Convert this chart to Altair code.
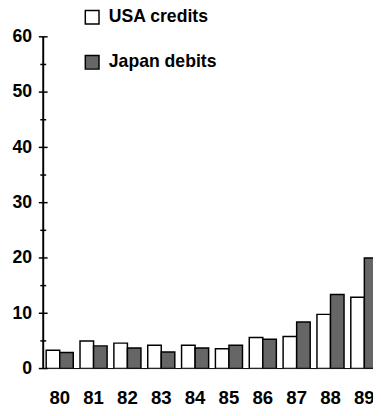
import altair as alt
import pandas as pd

YEARS = ["80", "81", "82", "83", "84", "85", "86", "87", "88", "89"]
USA_CREDITS = [3.3, 5.0, 4.6, 4.2, 4.2, 3.6, 5.6, 5.8, 9.8, 12.9]
JAPAN_DEBITS = [2.9, 4.1, 3.7, 3.0, 3.7, 4.2, 5.3, 8.4, 13.4, 20.0]
SERIES = ["USA credits", "Japan debits"]
SERIES_COLORS = ["white", "#666666"]
Y_MAJOR = [0, 10, 20, 30, 40, 50, 60]
Y_MINOR = [5, 15, 25, 35, 45, 55]

rows = []
for yr, u, j in zip(YEARS, USA_CREDITS, JAPAN_DEBITS):
    rows.append({"year": yr, "series": SERIES[0], "value": u})
    rows.append({"year": yr, "series": SERIES[1], "value": j})
df = pd.DataFrame(rows)

FONT = "Liberation Sans"
PLOT_W = 345
PLOT_H = 339

x_scale = alt.Scale(domain=YEARS, paddingInner=0.2, paddingOuter=0.087)
y_scale = alt.Scale(domain=[0, 60], nice=False, zero=True)

Y_AXIS = alt.Axis(title=None, values=Y_MAJOR, ticks=False, grid=False, domain=False,
                  labelFont=FONT, labelFontSize=18, labelFontWeight="bold",
                  labelColor="black", labelPadding=12)

bars = alt.Chart(df).mark_bar(stroke="black", strokeWidth=1.5, clip=True).encode(
    x=alt.X("year:N", scale=x_scale, sort=YEARS,
            axis=alt.Axis(title=None, ticks=False, domain=False, labelAngle=0,
                          labelFont=FONT, labelFontSize=19, labelFontWeight="bold",
                          labelColor="black", labelPadding=21)),
    xOffset=alt.XOffset("series:N", sort=SERIES, scale=alt.Scale(paddingInner=0, paddingOuter=0)),
    y=alt.Y("value:Q", scale=y_scale, axis=Y_AXIS),
    fill=alt.Fill("series:N", sort=SERIES,
                  scale=alt.Scale(domain=SERIES, range=SERIES_COLORS),
                  legend=alt.Legend(title=None, orient="none", legendX=41, legendY=-29,
                                    direction="vertical", symbolType="square", symbolSize=196,
                                    symbolStrokeColor="black", symbolStrokeWidth=1.5,
                                    labelFont=FONT, labelFontSize=18, labelFontWeight="bold",
                                    labelColor="black", labelOffset=8, rowPadding=26,
                                    padding=0)),
)

baseline = alt.Chart(pd.DataFrame({"v": [0]})).mark_rule(color="black", strokeWidth=1).encode(
    y=alt.Y("v:Q", scale=y_scale, axis=Y_AXIS)
)

y_line = alt.Chart(pd.DataFrame({"lo": [0], "hi": [60]})).mark_rect(color="black").encode(
    x=alt.value(-1), x2=alt.value(1),
    y=alt.Y("lo:Q", scale=y_scale, axis=Y_AXIS),
    y2=alt.Y2("hi:Q"),
)

major_ticks = alt.Chart(pd.DataFrame({"t": Y_MAJOR})).mark_rule(color="black", strokeWidth=1.5).encode(
    y=alt.Y("t:Q", scale=y_scale, axis=Y_AXIS),
    x=alt.value(-4.5), x2=alt.value(4.5),
)

minor_ticks = alt.Chart(pd.DataFrame({"t": Y_MINOR})).mark_rule(color="black", strokeWidth=1.5).encode(
    y=alt.Y("t:Q", scale=y_scale, axis=Y_AXIS),
    x=alt.value(-3), x2=alt.value(3),
)

chart = alt.layer(baseline, bars, y_line, major_ticks, minor_ticks).properties(
    width=PLOT_W, height=PLOT_H,
    autosize=alt.AutoSizeParams(type="none"),
    padding={"left": 36, "top": 25, "right": -8, "bottom": 42},
    background="white",
).configure_view(stroke=None)

chart.save("out.html", embed_options={"renderer": "svg", "actions": False})
